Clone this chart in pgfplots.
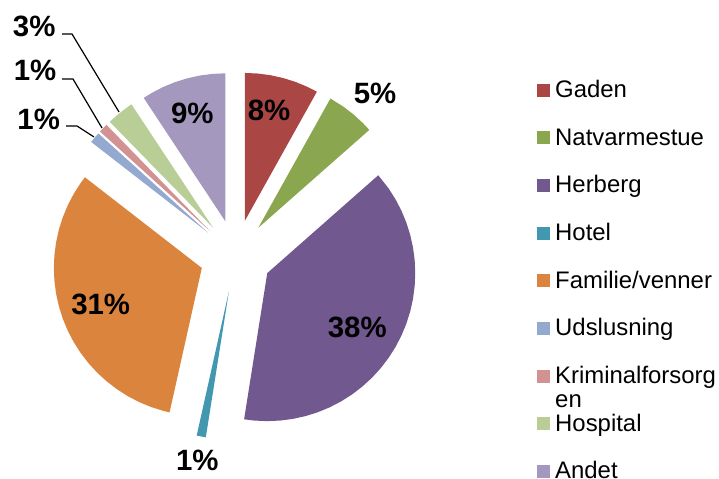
\documentclass[border=0pt]{standalone}
\usepackage{pgfplots}
\pgfplotsset{compat=1.18}
\usepackage{fontspec}
\setmainfont{Liberation Sans}
\definecolor{cGaden}{RGB}{170,70,68}
\definecolor{cNat}{RGB}{138,166,78}
\definecolor{cHerb}{RGB}{113,88,143}
\definecolor{cHotel}{RGB}{65,152,175}
\definecolor{cFam}{RGB}{219,132,61}
\definecolor{cUds}{RGB}{147,169,207}
\definecolor{cKrim}{RGB}{209,146,145}
\definecolor{cHosp}{RGB}{185,205,150}
\definecolor{cAndet}{RGB}{165,152,191}
\tikzset{pct/.style={font=\fontsize{29.5}{31}\selectfont\bfseries, inner sep=0pt, anchor=center}}
% shares (percent): Gaden 8.1, Natvarmestue 5.4, Herberg 39.0, Hotel 1.0,
% Familie/venner 32.0, Udslusning 1.2, Kriminalforsorgen 1.0, Hospital 3.0, Andet 9.3
% slices drawn clockwise from 90 degrees, radius 148, exploded by 36
\begin{document}
\begin{tikzpicture}
\begin{axis}[
  scale only axis, width=719bp, height=479bp,
  xmin=0, xmax=719, ymin=0, ymax=479,
  hide axis, clip=false,
  legend style={at={(axis cs:537,398.5)}, anchor=north west, draw=none, fill=none,
    inner sep=0pt, row sep=30.65bp, column sep=5bp,
    font=\fontsize{24}{28}\selectfont,
    nodes={inner sep=0pt, text height=17bp, text depth=0bp}},
  legend cell align=left,
  legend image code/.code={\fill[#1] (0bp,-7.5bp) rectangle (13bp,5.5bp);},
]
\addplot[draw=none, forget plot] coordinates {(0,0) (719,479)};
% Gaden 90 -> 60.84
\addplot[fill=cGaden, draw=none, forget plot, data cs=polar, shift={(235.7bp,223.2bp)}, shift={(75.42:36bp)}]
  coordinates {(0,0) (90,148) (85,148) (80,148) (75,148) (70,148) (65,148) (60.84,148)};
% Natvarmestue 60.84 -> 41.4
\addplot[fill=cNat, draw=none, forget plot, data cs=polar, shift={(235.7bp,223.2bp)}, shift={(51.12:36bp)}]
  coordinates {(0,0) (60.84,148) (55,148) (50,148) (45,148) (41.4,148)};
% Herberg 41.4 -> -99
\addplot[fill=cHerb, draw=none, forget plot, data cs=polar, shift={(235.7bp,223.2bp)}, shift={(-28.8:36bp)}]
  coordinates {(0,0) (41.4,148) (35,148) (30,148) (25,148) (20,148) (15,148) (10,148) (5,148) (0,148)
  (-5,148) (-10,148) (-15,148) (-20,148) (-25,148) (-30,148) (-35,148) (-40,148) (-45,148) (-50,148)
  (-55,148) (-60,148) (-65,148) (-70,148) (-75,148) (-80,148) (-85,148) (-90,148) (-95,148) (-99,148)};
% Hotel -99 -> -102.6
\addplot[fill=cHotel, draw=none, forget plot, data cs=polar, shift={(235.7bp,223.2bp)}, shift={(-100.8:36bp)}]
  coordinates {(0,0) (-99,148) (-102.6,148)};
% Familie/venner -102.6 -> -217.8
\addplot[fill=cFam, draw=none, forget plot, data cs=polar, shift={(235.7bp,223.2bp)}, shift={(-160.2:36bp)}]
  coordinates {(0,0) (-102.6,148) (-105,148) (-110,148) (-115,148) (-120,148) (-125,148) (-130,148)
  (-135,148) (-140,148) (-145,148) (-150,148) (-155,148) (-160,148) (-165,148) (-170,148) (-175,148)
  (-180,148) (-185,148) (-190,148) (-195,148) (-200,148) (-205,148) (-210,148) (-215,148) (-217.8,148)};
% Udslusning -217.8 -> -222.12
\addplot[fill=cUds, draw=none, forget plot, data cs=polar, shift={(235.7bp,223.2bp)}, shift={(-219.96:36bp)}]
  coordinates {(0,0) (-217.8,148) (-220,148) (-222.12,148)};
% Kriminalforsorgen -222.12 -> -225.72
\addplot[fill=cKrim, draw=none, forget plot, data cs=polar, shift={(235.7bp,223.2bp)}, shift={(-223.92:36bp)}]
  coordinates {(0,0) (-222.12,148) (-225.72,148)};
% Hospital -225.72 -> -236.52
\addplot[fill=cHosp, draw=none, forget plot, data cs=polar, shift={(235.7bp,223.2bp)}, shift={(-231.12:36bp)}]
  coordinates {(0,0) (-225.72,148) (-230,148) (-235,148) (-236.52,148)};
% Andet -236.52 -> -270
\addplot[fill=cAndet, draw=none, forget plot, data cs=polar, shift={(235.7bp,223.2bp)}, shift={(-253.26:36bp)}]
  coordinates {(0,0) (-236.52,148) (-240,148) (-245,148) (-250,148) (-255,148) (-260,148) (-265,148) (-270,148)};
% leader lines
\addplot[black, line width=1.2bp, forget plot] coordinates {(62,445) (72,445) (119,367)};
\addplot[black, line width=1.2bp, forget plot] coordinates {(62,400) (73,400) (102,351)};
\addplot[black, line width=1.2bp, forget plot] coordinates {(66,353) (77,353) (94,342)};
% labels
\node[pct] at (axis cs:269,369) {8\%};
\node[pct] at (axis cs:375,385.3) {5\%};
\node[pct] at (axis cs:357.3,152) {38\%};
\node[pct] at (axis cs:197.3,18.3) {1\%};
\node[pct] at (axis cs:100.7,175) {31\%};
\node[pct] at (axis cs:38.7,360) {1\%};
\node[pct] at (axis cs:35,408.7) {1\%};
\node[pct] at (axis cs:34.2,452.3) {3\%};
\node[pct] at (axis cs:192.3,366) {9\%};
% legend
\addlegendimage{fill=cGaden, draw=none}\addlegendentry{Gaden}
\addlegendimage{fill=cNat, draw=none}\addlegendentry{Natvarmestue}
\addlegendimage{fill=cHerb, draw=none}\addlegendentry{Herberg}
\addlegendimage{fill=cHotel, draw=none}\addlegendentry{Hotel}
\addlegendimage{fill=cFam, draw=none}\addlegendentry{Familie/venner}
\addlegendimage{fill=cUds, draw=none}\addlegendentry{Udslusning}
\addlegendimage{fill=cKrim, draw=none}\addlegendentry{\smash{\begin{tabular}[t]{@{}l@{}}Kriminalforsorg\\[-4bp]en\end{tabular}}}
\addlegendimage{fill=cHosp, draw=none}\addlegendentry{Hospital}
\addlegendimage{fill=cAndet, draw=none}\addlegendentry{Andet}
\end{axis}
\pgfresetboundingbox
\path (0bp,0bp) rectangle (719bp,479bp);
\end{tikzpicture}
\end{document}
